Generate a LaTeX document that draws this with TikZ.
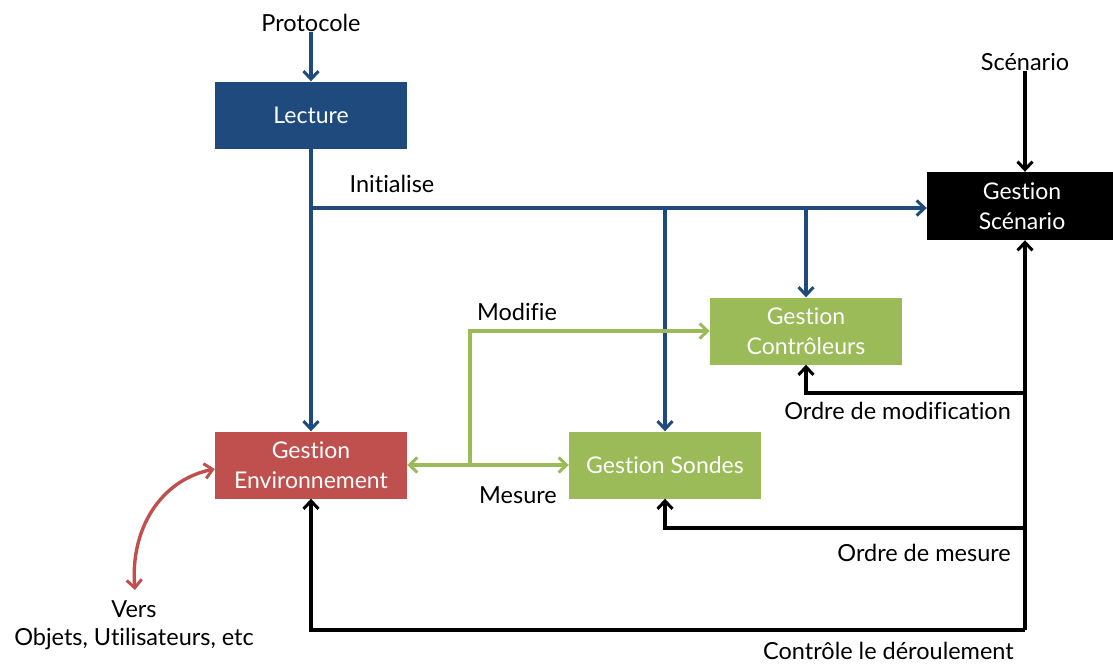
\documentclass[tikz,border=0pt]{standalone}
\usepackage{fontspec}
\setmainfont{Lato}[Ligatures={NoCommon,NoRare}]
\usetikzlibrary{arrows.meta,positioning}
\definecolor{cblue}{HTML}{1F4A7E}
\definecolor{cred}{HTML}{C0504D}
\definecolor{cgreen}{HTML}{9BBB59}
\tikzset{
  box/.style={minimum width=192pt, minimum height=67pt, inner sep=0pt, align=center, text=white, font=\fontsize{23}{30}\selectfont},
  lbl/.style={font=\fontsize{23.5}{28}\selectfont, text=black, inner sep=0pt},
  conn/.style={line width=3.4pt, -{Straight Barb[length=8pt,width=15pt,line width=3pt]}},
  biconn/.style={line width=3.4pt, {Straight Barb[length=8pt,width=15pt,line width=3pt]}-{Straight Barb[length=8pt,width=15pt,line width=3pt]}},
}
\begin{document}
\begin{tikzpicture}[x=1pt,y=-1pt]
\useasboundingbox (0,0) rectangle (1113,664);
% nodes
\node[box, fill=cblue] (lec) at (311,115) {Lecture};
\node[box, fill=black, minimum width=190pt, minimum height=68pt] (scen) at (1022,206) {Gestion\\Scénario};
\node[box, fill=cgreen] (ctrl) at (806,331) {Gestion\\Contrôleurs};
\node[box, fill=cgreen] (sond) at (665,465) {Gestion Sondes};
\node[box, fill=cred] (env) at (311,465) {Gestion\\Environnement};
% external labels
\node[lbl] (proto) at (311,23) {Protocole};
\node[lbl] (scentxt) at (1025,62) {Scénario};
\node[lbl] (init) at (392,184) {Initialise};
\node[lbl] (modif) at (517,312) {Modifie};
\node[lbl] (mes) at (518,495) {Mesure};
\node[lbl, anchor=east] (omod) at (1011,411) {Ordre de modification};
\node[lbl, anchor=east] (omes) at (1011,553) {Ordre de mesure};
\node[lbl, anchor=east] (ctl) at (1014,651) {Contrôle le déroulement};
\node[lbl, align=center] (vers) at (134,625) {Vers\\Objets, Utilisateurs, etc};
% coordinates
\coordinate (jinit) at (311,208);
\coordinate (jc) at (806,208);
\coordinate (js) at (665,208);
\coordinate (jg) at (470,465);
\coordinate (jgu) at (470,331);
\coordinate (b1) at (1025,393);
\coordinate (b2) at (1025,528);
\coordinate (b3) at (1025,630);
\coordinate (vend) at (135,590);
% blue connectors
\draw[conn, cblue] (proto.south) -- (lec.north);
\draw[conn, cblue] (lec.south) -- (env.north);
\draw[conn, cblue] (jinit) -- (jinit -| scen.west);
\draw[conn, cblue] (js) -- (sond.north -| js);
\draw[conn, cblue] (jc) -- (ctrl.north -| jc);
% black connectors
\draw[conn] (scentxt.south -| b3) -- (scen.north -| b3);
\draw[conn] (b3) -- (scen.south -| b3);
\draw[conn] (b1) -| (ctrl.south);
\draw[conn] (b2) -| (sond.south);
\draw[conn] (b3) -| (env.south);
% green connectors
\draw[biconn, cgreen] (env.east) -- (sond.west);
\draw[conn, cgreen] (jg) -- (jgu) -- (ctrl.west);
% red curve
\draw[biconn, cred] ([yshift=-4pt]env.west) .. controls (160,480) and (130,530) .. (vend);
\end{tikzpicture}
\end{document}
